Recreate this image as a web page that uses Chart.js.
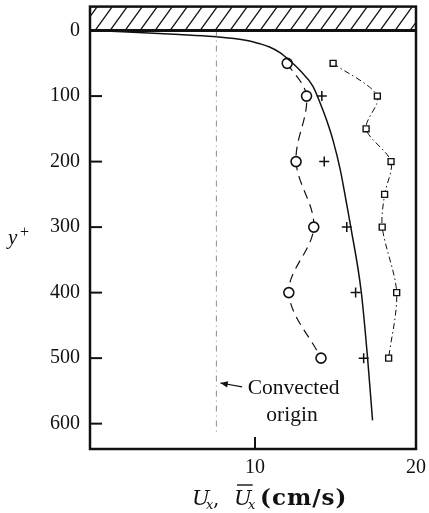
<!DOCTYPE html>
<html>
<head>
<meta charset="utf-8">
<script src="https://cdn.jsdelivr.net/npm/chart.js@4.4.1/dist/chart.umd.min.js"></script>
<style>
  html, body { margin: 0; padding: 0; background: #fff; }
</style>
</head>
<body>
<canvas id="chart" width="429" height="513"></canvas>
<script>
// tick labels
const yTickValues = [0, 100, 200, 300, 400, 500, 600];
const xTickValues = [10, 20];

// open circles, dashed line
const circleY = [50, 100, 200, 300, 400, 500];
const circleU = [12.0, 13.2, 12.55, 13.65, 12.1, 14.1];

// open squares, dash-dot line
const squareY = [50, 100, 150, 200, 250, 300, 400, 500];
const squareU = [14.85, 17.6, 16.9, 18.45, 18.05, 17.9, 18.8, 18.3];

// plus markers, no line
const plusY = [100, 200, 300, 400, 500];
const plusU = [14.15, 14.3, 15.7, 16.25, 16.75];

// solid mean profile
const profileY = [0, 6, 9, 15, 20, 25, 33.5, 45.7, 61, 85, 111, 137, 168, 213, 259, 300, 399, 502, 595];
const profileU = [0, 5.3, 7.4, 9.5, 10.3, 10.9, 11.55, 12.15, 12.8, 13.6, 14.05, 14.45, 14.85, 15.3, 15.65, 15.95, 16.6, 17.0, 17.3];

// convected origin line
const originU = 7.6;
const originY = [0, 615];

const serif = "'Liberation Serif', 'DejaVu Serif', serif";
const wideSerif = "'DejaVu Serif', serif";
const ink = '#111';

const toPoints = (xs, ys) => xs.map((v, i) => ({x: v, y: ys[i]}));

const noPad = s => {
    s.paddingLeft = 0;
    s.paddingRight = 0;
    s.paddingTop = 0;
    s.paddingBottom = 0;
};

const decor = {
    id: 'decor',
    afterDraw(chart) {
        const {ctx, chartArea: a, scales: {x, y}} = chart;
        const y0 = y.getPixelForValue(0);
        ctx.save();

        // hatched wall
        ctx.save();
        ctx.beginPath();
        ctx.rect(a.left, a.top, a.right - a.left, y0 - a.top);
        ctx.clip();
        ctx.strokeStyle = ink;
        ctx.lineWidth = 1.3;
        const h = y0 - a.top;
        for (let sx = a.left - 40; sx < a.right + 40; sx += 15) {
            ctx.beginPath();
            ctx.moveTo(sx, y0);
            ctx.lineTo(sx + h * 0.72, a.top);
            ctx.stroke();
        }
        ctx.restore();

        // frame
        ctx.strokeStyle = ink;
        ctx.lineWidth = 2.5;
        ctx.strokeRect(a.left, a.top, a.right - a.left, a.bottom - a.top);
        ctx.lineWidth = 3;
        ctx.beginPath();
        ctx.moveTo(a.left, y0);
        ctx.lineTo(a.right, y0);
        ctx.stroke();

        // inward ticks
        ctx.lineWidth = 2;
        yTickValues.forEach(v => {
            if (v === 0) return;
            const py = y.getPixelForValue(v);
            ctx.beginPath();
            ctx.moveTo(a.left, py);
            ctx.lineTo(a.left + 12, py);
            ctx.stroke();
        });
        xTickValues.forEach(v => {
            const px = x.getPixelForValue(v);
            ctx.beginPath();
            ctx.moveTo(px, a.bottom);
            ctx.lineTo(px, a.bottom - 12);
            ctx.stroke();
        });

        // annotation
        ctx.fillStyle = ink;
        ctx.font = '21.5px ' + serif;
        ctx.textAlign = 'center';
        ctx.textBaseline = 'middle';
        ctx.fillText('Convected', x.getPixelForValue(12.4), y.getPixelForValue(546));
        ctx.fillText('origin', x.getPixelForValue(12.3), y.getPixelForValue(587));
        const tipX = x.getPixelForValue(7.85), tipY = y.getPixelForValue(538);
        const tailX = x.getPixelForValue(9.2), tailY = y.getPixelForValue(544);
        ctx.lineWidth = 1.2;
        ctx.beginPath();
        ctx.moveTo(tailX, tailY);
        ctx.lineTo(tipX, tipY);
        ctx.stroke();
        const ang = Math.atan2(tipY - tailY, tipX - tailX);
        ctx.beginPath();
        ctx.moveTo(tipX, tipY);
        ctx.lineTo(tipX - 8 * Math.cos(ang - 0.4), tipY - 8 * Math.sin(ang - 0.4));
        ctx.lineTo(tipX - 8 * Math.cos(ang + 0.4), tipY - 8 * Math.sin(ang + 0.4));
        ctx.closePath();
        ctx.fill();

        // y title: y+
        ctx.textAlign = 'left';
        ctx.textBaseline = 'alphabetic';
        ctx.font = 'italic 21px ' + serif;
        ctx.fillText('y', 8, 244);
        ctx.font = '16px ' + serif;
        ctx.fillText('+', 20, 237);

        // x title: Ux, Ux-bar (cm/s)
        const base = 505;
        const runs = [
            {t: 'U', f: 'italic 21px ' + wideSerif, x: 192, dy: 0},
            {t: 'x', f: 'italic 13px ' + wideSerif, x: 206, dy: 4},
            {t: ',', f: '20px ' + wideSerif, x: 213, dy: 0},
            {t: 'U', f: 'italic 21px ' + wideSerif, x: 234, dy: 0, bar: true},
            {t: 'x', f: 'italic 13px ' + wideSerif, x: 248, dy: 4},
            {t: '(cm/s)', f: 'bold 23px ' + wideSerif, x: 260, dy: 0, sp: '1px'}
        ];
        runs.forEach(r => {
            ctx.font = r.f;
            ctx.letterSpacing = r.sp || '0px';
            ctx.fillText(r.t, r.x, base + r.dy);
            if (r.bar) {
                const w = ctx.measureText(r.t).width;
                ctx.lineWidth = 1.4;
                ctx.beginPath();
                ctx.moveTo(r.x + 3, base - 20);
                ctx.lineTo(r.x + w + 1, base - 20);
                ctx.stroke();
            }
        });
        ctx.letterSpacing = '0px';

        ctx.restore();
    }
};

new Chart(document.getElementById('chart').getContext('2d'), {
    type: 'scatter',
    data: {
        datasets: [
            {
                data: toPoints([originU, originU], originY),
                showLine: true,
                borderColor: '#8a8a8a',
                borderWidth: 1,
                borderDash: [6, 4, 1, 4],
                pointRadius: 0
            },
            {
                data: toPoints(profileU, profileY),
                showLine: true,
                borderColor: ink,
                borderWidth: 1.5,
                cubicInterpolationMode: 'monotone',
                pointRadius: 0
            },
            {
                data: toPoints(circleU, circleY),
                showLine: true,
                borderColor: ink,
                borderWidth: 1.2,
                borderDash: [9, 6],
                tension: 0.35,
                pointStyle: 'circle',
                pointRadius: 5,
                pointBorderWidth: 1.6,
                pointBorderColor: ink,
                pointBackgroundColor: '#fff'
            },
            {
                data: toPoints(squareU, squareY),
                showLine: true,
                borderColor: ink,
                borderWidth: 1,
                borderDash: [6, 3, 1.5, 3],
                tension: 0.3,
                pointStyle: 'rect',
                pointRadius: 4.2,
                pointBorderWidth: 1.4,
                pointBorderColor: ink,
                pointBackgroundColor: '#fff'
            },
            {
                data: toPoints(plusU, plusY),
                showLine: false,
                pointStyle: 'cross',
                pointRadius: 5,
                pointBorderWidth: 1.5,
                pointBorderColor: ink
            }
        ]
    },
    options: {
        responsive: false,
        animation: false,
        layout: {padding: {left: 0, right: 13, top: 6, bottom: 0}},
        plugins: {
            legend: {display: false},
            tooltip: {enabled: false}
        },
        scales: {
            x: {
                type: 'linear',
                min: -0.25,
                max: 20,
                grid: {display: false, drawTicks: false},
                border: {display: false},
                afterBuildTicks: s => { s.ticks = xTickValues.map(v => ({value: v})); },
                afterFit: s => { s.height = 64; noPad(s); },
                ticks: {
                    padding: 7,
                    color: ink,
                    font: {family: serif, size: 20},
                    maxRotation: 0
                }
            },
            y: {
                type: 'linear',
                reverse: true,
                min: -36.6,
                max: 638.7,
                grid: {display: false, drawTicks: false},
                border: {display: false},
                afterBuildTicks: s => { s.ticks = yTickValues.map(v => ({value: v})); },
                afterFit: s => { s.width = 90; noPad(s); },
                ticks: {
                    padding: 10,
                    color: ink,
                    font: {family: serif, size: 20}
                }
            }
        }
    },
    plugins: [decor]
});
</script>
</body>
</html>
